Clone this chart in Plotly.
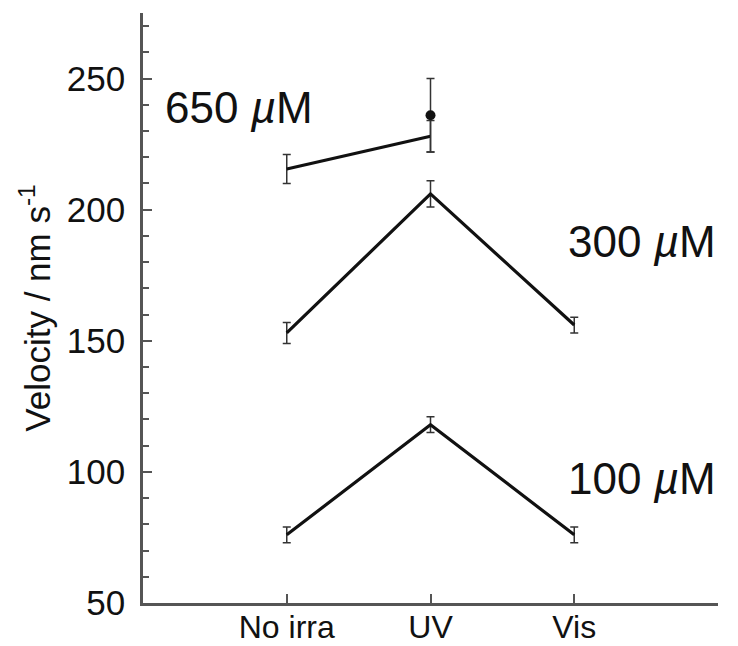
import plotly.graph_objects as go

categories = ["No irra", "UV", "Vis"]
conc_100 = [76, 118, 76]
err_100 = [3, 3, 3]
conc_300 = [153, 206, 156]
err_300 = [4, 5, 3]
conc_650 = [215.5, 228]
err_650 = [5.5, 6]
point_650_uv = [236]
err_650_uv = [14]
y_ticks = [50, 100, 150, 200, 250]

xpos = list(range(len(categories)))
line_col = "#111111"
axis_col = "#555555"

fig = go.Figure()

def add_series(y, e, n):
    fig.add_trace(go.Scatter(
        x=xpos[:n], y=y, mode="lines",
        line=dict(color=line_col, width=3.2),
        error_y=dict(type="data", array=e, color="#333333", thickness=1.5, width=4),
        showlegend=False, hoverinfo="skip"))

add_series(conc_100, err_100, 3)
add_series(conc_300, err_300, 3)
add_series(conc_650, err_650, 2)
fig.add_trace(go.Scatter(
    x=[xpos[1]], y=point_650_uv, mode="markers",
    marker=dict(color=line_col, size=10),
    error_y=dict(type="data", array=err_650_uv, color="#333333", thickness=1.5, width=4),
    showlegend=False, hoverinfo="skip"))

font_fam = "Liberation Sans, Arial, sans-serif"
ann_font = dict(family=font_fam, size=44, color="#111111")
fig.add_annotation(x=-0.86, y=239, text="650 <i>µ</i>M", showarrow=False,
                   xanchor="left", yanchor="middle", font=ann_font)
fig.add_annotation(x=3.0, y=188, text="300 <i>µ</i>M", showarrow=False,
                   xanchor="right", yanchor="middle", font=ann_font)
fig.add_annotation(x=3.0, y=97.5, text="100 <i>µ</i>M", showarrow=False,
                   xanchor="right", yanchor="middle", font=ann_font)

fig.update_layout(
    width=738, height=646,
    margin=dict(l=135, r=28, t=5, b=51),
    paper_bgcolor="white", plot_bgcolor="white",
    font=dict(family=font_fam, color="#111111"),
    xaxis=dict(
        range=[-1, 3], tickvals=xpos, ticktext=categories,
        ticks="inside", ticklen=9, tickwidth=1.5, tickcolor=axis_col,
        minor=dict(dtick=1, tick0=-1, ticks="inside", ticklen=9, tickwidth=1.5, tickcolor=axis_col),
        showline=True, linecolor=axis_col, linewidth=2.5,
        showgrid=False, zeroline=False, automargin=False,
        ticklabelstandoff=-6,
        tickfont=dict(size=32, family=font_fam, color="#111111"),
    ),
    yaxis=dict(
        range=[50, 275], tickvals=y_ticks,
        ticks="inside", ticklen=9, tickwidth=1.5, tickcolor=axis_col,
        minor=dict(dtick=10, tick0=50, ticks="inside", ticklen=6, tickwidth=1.5, tickcolor=axis_col),
        showline=True, linecolor=axis_col, linewidth=2.5,
        showgrid=False, zeroline=False, automargin=False,
        ticklabelstandoff=8,
        tickfont=dict(size=35, family=font_fam, color="#111111"),
        title=dict(text="Velocity / nm s<sup>-1</sup>", font=dict(size=35, family=font_fam, color="#111111"), standoff=6),
    ),
)

fig.write_html("out.html")
